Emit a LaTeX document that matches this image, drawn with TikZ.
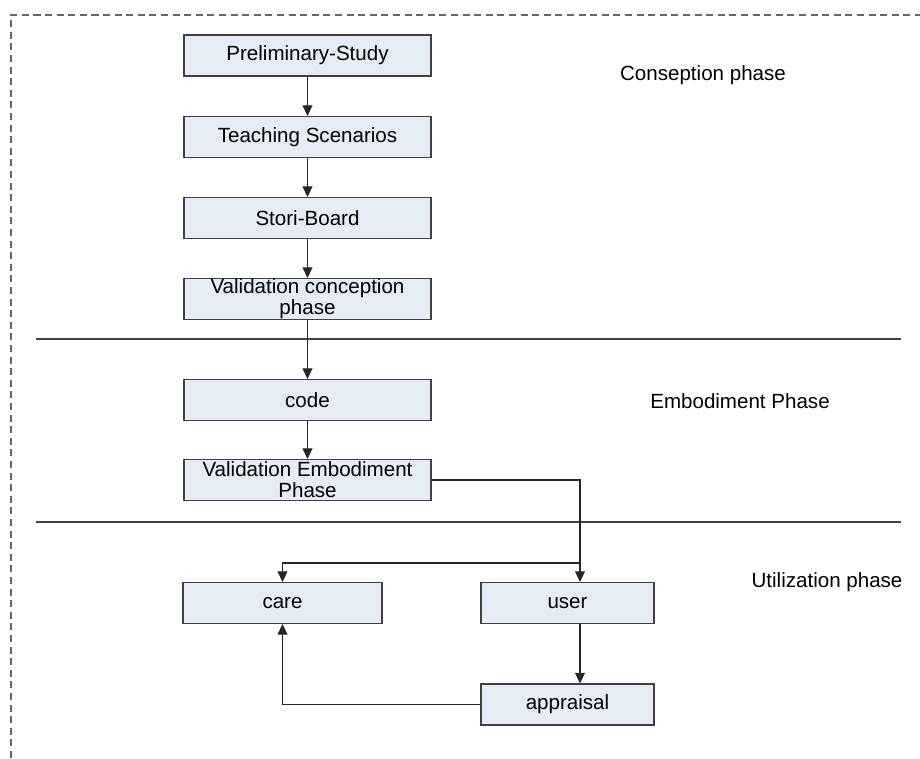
\documentclass[tikz,border=0pt]{standalone}
\usepackage{fontspec}
\setmainfont{Liberation Sans}
\usepackage{tikz}
\usetikzlibrary{arrows.meta,positioning}
\definecolor{boxfill}{HTML}{E6ECF6}
\definecolor{boxline}{HTML}{404040}

\begin{document}
\begin{tikzpicture}[
  font=\fontsize{11.7}{14}\selectfont,
  stage/.style={draw=boxline, fill=boxfill, line width=0.6pt, minimum height=0.82cm, inner sep=0pt,
    align=center, font=\fontsize{11.7}{11.8}\selectfont},
  wide/.style={stage, minimum width=4.94cm},
  narrow/.style={stage, minimum width=3.46cm},
  flow/.style={-{Triangle[length=6pt,width=5.6pt]}, black!85, line width=0.65pt}
]
\useasboundingbox (0,0) rectangle (18.4,15.16);

% Dashed frame and phase separators
\draw[gray!80!black, dashed, dash pattern=on 4pt off 2.6pt, line width=0.6pt]
  (0.22,0) -- (0.22,14.86) -- (18.4,14.86);
\draw[boxline, line width=0.6pt] (0.72,8.38) -- (18.02,8.38);
\draw[boxline, line width=0.6pt] (0.72,4.72) -- (18.02,4.72);

% Conception phase
\node[wide] (prelim) at (6.15,14.05) {Preliminary-Study};
\node[wide] (teach) at (6.15,12.42) {Teaching Scenarios};
\node[wide] (story) at (6.15,10.80) {Stori-Board};
\node[wide] (valconc) at (6.15,9.18) {Validation conception\\phase};

% Embodiment phase
\node[wide] (code) at (6.15,7.16) {code};
\node[wide] (valemb) at (6.15,5.56) {Validation Embodiment\\Phase};

% Utilization phase
\node[stage, minimum width=3.98cm] (care) at (5.65,3.10) {care};
\node[narrow] (user) at (11.35,3.10) {user};
\node[narrow] (appr) at (11.35,1.07) {appraisal};
\coordinate (split) at (11.6,3.90);

% Phase labels
\node (conlbl) at (14.06,13.66) {Conseption phase};
\node (emblbl) at (14.80,7.14) {Embodiment Phase};
\node (utilbl) at (16.54,3.52) {Utilization phase};

% Flow
\draw[flow] (prelim) -- (teach);
\draw[flow] (teach) -- (story);
\draw[flow] (story) -- (valconc);
\draw[flow] (valconc) -- (code);
\draw[flow] (code) -- (valemb);
\draw[flow] (valemb.east) -| (split |- user.north);
\draw[flow] (split) -| (care.north);
\draw[flow] (split |- user.south) -- (split |- appr.north);
\draw[flow] (appr.west) -| (care.south);

\end{tikzpicture}
\end{document}
